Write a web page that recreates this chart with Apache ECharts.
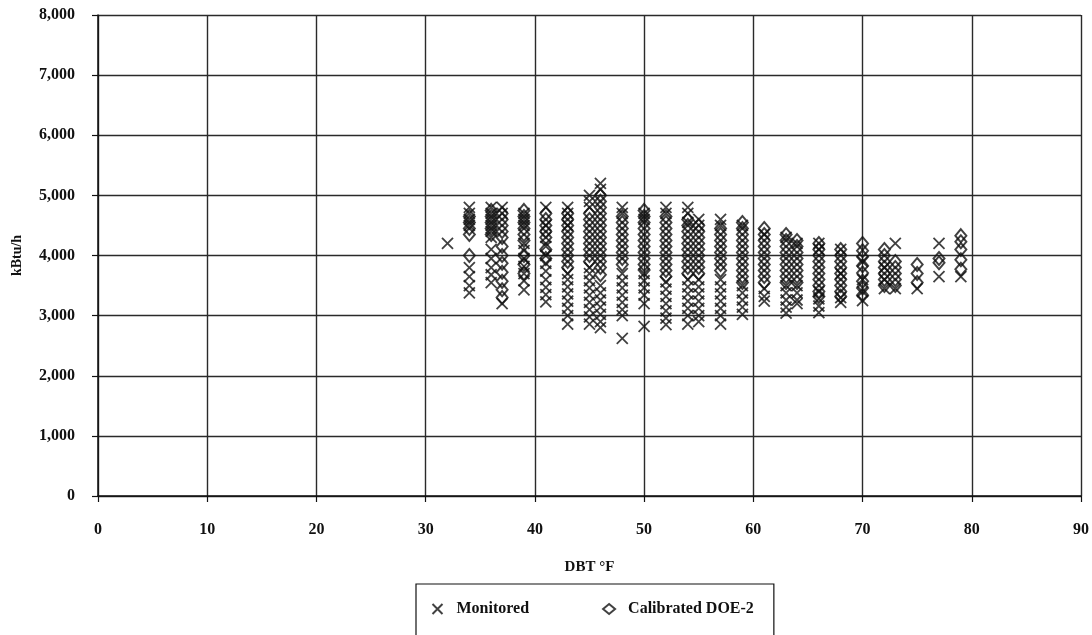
<!DOCTYPE html>
<html>
<head>
<meta charset="utf-8">
<script src="https://cdn.jsdelivr.net/npm/echarts@6/dist/echarts.min.js"></script>
<style>html,body{margin:0;padding:0;background:#fff;}#c{width:1092px;height:635px;}</style>
</head>
<body>
<div id="c"></div>
<script>
// Temperature columns (DBT °F)
const temps = [32, 34, 36, 37, 39, 41, 43, 45, 46, 48, 50, 52, 54, 55, 57, 59, 61, 63, 64, 66, 68, 70, 72, 73, 75, 77, 79];
// Monitored values (kBtu/h) per column
const monitored = [
  [4200],
  [4800, 4700, 4600, 4500, 3800, 3650, 3500, 3380],
  [4800, 4700, 4600, 4500, 4400, 4300, 4100, 3950, 3800, 3680, 3550],
  [4800, 4700, 3200],
  [4700, 4600, 4500, 4200, 4080, 3950, 3820, 3700, 3580, 3430],
  [4800, 4500, 4300, 4150, 4000, 3870, 3740, 3600, 3470, 3350, 3230],
  [4800, 4700, 4500, 3700, 3600, 3480, 3360, 3240, 3120, 3000, 2860],
  [5000, 4900, 4800, 3800, 3700, 3580, 3460, 3340, 3220, 3100, 2980, 2860],
  [5200, 5100, 3500, 3380, 3260, 3140, 3020, 2900, 2800],
  [4800, 4700, 3700, 3580, 3460, 3340, 3220, 3100, 3000, 2620],
  [4700, 4600, 3700, 3580, 3460, 3340, 3200, 2820],
  [4800, 4700, 3560, 3440, 3320, 3200, 3080, 2960, 2850],
  [4800, 4700, 4550, 3600, 3480, 3360, 3240, 3120, 3000, 2860],
  [4600, 4500, 3600, 3480, 3360, 3240, 3120, 3000, 2900],
  [4600, 4500, 3600, 3480, 3360, 3240, 3120, 3000, 2860],
  [4500, 3500, 3380, 3260, 3140, 3020],
  [4350, 3450, 3320, 3240],
  [4300, 3500, 3380, 3260, 3140, 3040],
  [4200, 3500, 3380, 3260, 3200],
  [4200, 4100, 3400, 3280, 3160, 3050],
  [4100, 3700, 3300, 3220],
  [3900, 3600, 3400, 3250],
  [3800, 3600, 3450],
  [4200, 3450],
  [3450],
  [4200, 3650],
  [3650]
];
// Calibrated DOE-2 values (kBtu/h) per column
const calibrated = [
  [],
  [4650, 4550, 4450, 4350, 4000],
  [4750, 4650, 4550, 4450, 4350],
  [4700, 4600, 4500, 4400, 4300, 4150, 4000, 3870, 3720, 3570, 3430, 3300],
  [4750, 4650, 4550, 4450, 4350, 4250, 4000, 3850, 3700],
  [4700, 4600, 4500, 4400, 4300, 4100, 3950],
  [4700, 4600, 4500, 4400, 4300, 4200, 4100, 4000, 3900, 3800],
  [4700, 4600, 4500, 4400, 4300, 4200, 4100, 4000, 3900],
  [5000, 4900, 4800, 4700, 4600, 4500, 4400, 4300, 4200, 4100, 4000, 3900, 3800, 3680],
  [4650, 4550, 4450, 4350, 4250, 4150, 4050, 3950, 3850],
  [4750, 4650, 4550, 4450, 4350, 4250, 4150, 4050, 3950, 3850, 3760],
  [4650, 4550, 4450, 4350, 4250, 4150, 4050, 3950, 3850, 3750, 3650],
  [4600, 4500, 4400, 4300, 4200, 4100, 4000, 3900, 3800, 3700],
  [4500, 4400, 4300, 4200, 4100, 4000, 3900, 3800, 3700],
  [4450, 4350, 4250, 4150, 4050, 3950, 3850, 3750],
  [4550, 4450, 4350, 4250, 4150, 4050, 3950, 3850, 3750, 3650, 3550],
  [4450, 4350, 4250, 4150, 4050, 3950, 3850, 3750, 3650, 3550],
  [4350, 4250, 4150, 4050, 3950, 3850, 3750, 3650, 3550],
  [4250, 4150, 4050, 3950, 3850, 3750, 3650, 3550],
  [4200, 4100, 4000, 3900, 3800, 3700, 3600, 3500, 3400, 3320],
  [4100, 4000, 3900, 3800, 3700, 3600, 3500, 3400, 3320],
  [4200, 4080, 3980, 3830, 3710, 3570, 3460, 3340],
  [4100, 4000, 3900, 3800, 3700, 3600, 3500],
  [3900, 3800, 3700, 3600, 3500],
  [3850, 3700, 3550],
  [3950, 3880],
  [4330, 4230, 4100, 3930, 3770]
];
const xTicks = [0, 10, 20, 30, 40, 50, 60, 70, 80, 90];
const yTicks = [0, 1000, 2000, 3000, 4000, 5000, 6000, 7000, 8000];
const seriesNames = ['Monitored', 'Calibrated DOE-2'];

function flatten(cols) {
  const out = [];
  cols.forEach((vals, i) => vals.forEach(v => out.push([temps[i], v])));
  return out;
}

const font = '"Liberation Serif", "DejaVu Serif", serif';
const ink = '#111';

const chart = echarts.init(document.getElementById('c'));
chart.setOption({
  animation: false,
  backgroundColor: '#fff',
  grid: { left: 98, right: 9, top: 15, bottom: 139 },
  xAxis: {
    type: 'value', min: xTicks[0], max: xTicks[xTicks.length - 1], interval: 10,
    name: 'DBT °F', nameLocation: 'middle', nameGap: 64,
    nameTextStyle: { fontFamily: font, fontWeight: 'bold', fontSize: 15, color: ink },
    axisLine: { show: true, lineStyle: { color: ink, width: 1.5 } },
    axisTick: { show: true, length: 6, lineStyle: { color: ink, width: 1.2 } },
    axisLabel: { margin: 26, fontFamily: font, fontWeight: 'bold', fontSize: 16, color: ink },
    splitLine: { show: true, lineStyle: { color: '#2a2a2a', width: 1.4 } }
  },
  yAxis: {
    type: 'value', min: yTicks[0], max: yTicks[yTicks.length - 1], interval: 1000,
    name: 'kBtu/h', nameLocation: 'middle', nameGap: 74,
    nameTextStyle: { fontFamily: font, fontWeight: 'bold', fontSize: 14, color: ink },
    axisLine: { show: true, lineStyle: { color: ink, width: 1.5 } },
    axisTick: { show: true, length: 6, lineStyle: { color: ink, width: 1.2 } },
    axisLabel: { margin: 23, fontFamily: font, fontWeight: 'bold', fontSize: 16, color: ink,
      formatter: v => v.toLocaleString('en-US') },
    splitLine: { show: true, lineStyle: { color: '#2a2a2a', width: 1.4 } }
  },
  legend: {
    left: 416, top: 584, orient: 'horizontal',
    borderColor: ink, borderWidth: 1.2, padding: [17, 20, 30, 14],
    itemWidth: 12, itemHeight: 10, itemGap: 73,
    textStyle: { fontFamily: font, fontWeight: 'bold', fontSize: 16, color: ink, padding: [0, 0, 0, 8] },
    data: seriesNames
  },
  series: [
    {
      name: seriesNames[0], type: 'scatter',
      symbol: 'path://M0,0L10,10M10,0L0,10', symbolSize: 11,
      itemStyle: { color: 'none', borderColor: ink, borderWidth: 1.8 },
      data: flatten(monitored)
    },
    {
      name: seriesNames[1], type: 'scatter',
      symbol: 'diamond', symbolSize: [11, 13],
      itemStyle: { color: 'rgba(255,255,255,0)', borderColor: ink, borderWidth: 2 },
      data: flatten(calibrated)
    }
  ]
});
</script>
</body>
</html>
